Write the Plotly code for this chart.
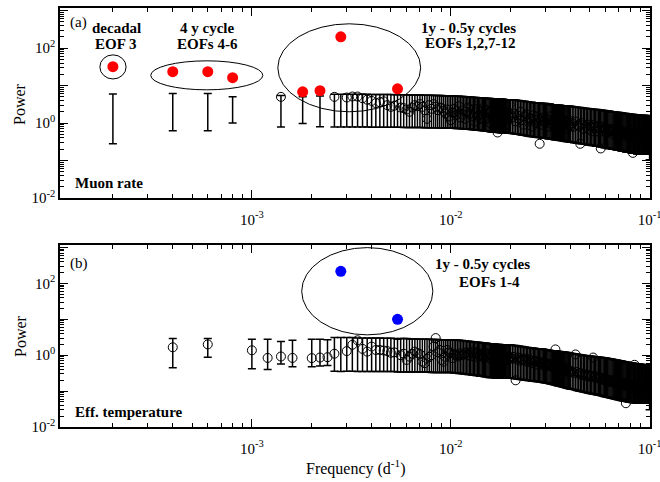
import math
import plotly.graph_objects as go

# ---------------- data (frequency in units of 1e-4 d^-1) ----------------
GRID_E4 = [
    26, 30, 32, 34, 36, 38, 40, 42, 44, 46,
    48, 50, 52, 56, 58, 60, 62, 64, 66, 68,
    70, 72, 74, 76, 78, 80, 82, 84, 86, 88,
    90, 92, 94, 96, 98, 100,
    102, 104, 106, 108, 110, 112, 114, 116, 118, 120,
    122, 124, 126, 128, 130, 132, 134, 136, 138, 140,
    142, 144, 146, 148, 150, 152, 154, 156, 158, 160,
    162, 164, 166, 168, 170, 172, 174, 176, 178, 180,
    182, 184, 186, 188, 190, 192, 194, 196, 198, 200,
    204, 208, 212, 216, 220, 224, 228, 232, 236, 240,
    244, 248, 252, 256, 260, 264, 268, 272, 276, 280,
    284, 288, 292, 296, 300, 304, 308, 312, 316, 320,
    324, 328, 332, 336, 340, 344, 348, 352, 356, 360,
    364, 368, 372, 376, 380, 384, 388, 392, 396, 400,
    408, 416, 424, 432, 440, 448, 456, 464, 472, 480,
    488, 496, 504, 512, 520, 528, 536, 544, 552, 560,
    568, 576, 584, 592, 600, 608, 616, 624, 632, 640,
    648, 656, 664, 672, 680, 688, 696, 704, 712, 720,
    728, 736, 744, 752, 760, 768, 776, 784, 792, 800,
    808, 816, 824, 832, 840, 848, 856, 864, 872, 880,
    888, 896, 904, 912, 920, 928, 936, 944, 952, 960,
    968, 976, 984, 992, 1000,
]

# panel (a) muon rate: power, lower / upper confidence bound
P_A = [
    5.0, 4.8, 5.1, 5.1, 4.6, 4.2, 3.9, 3.4, 3.6, 3.8,
    3.0, 2.7, 2.9, 2.6, 2.5, 2.3, 2.0, 2.6, 3.0, 2.8,
    3.2, 2.7, 2.2, 1.3, 3.0, 2.4, 3.2, 2.7, 2.2, 2.6,
    2.5, 2.1, 1.8, 2.3, 1.5, 1.2,
    1.9, 2.4, 1.6, 2.1, 2.8, 1.4, 1.7, 2.2, 1.3, 2.0,
    2.6, 1.8, 3.8, 1.5, 2.3, 1.1, 1.9, 2.4, 1.6, 1.3,
    2.0, 1.7, 2.5, 1.2, 1.8, 2.2, 1.4, 1.9, 1.0, 2.1,
    1.5, 1.6, 1.4, 2.0, 1.3, 0.56, 2.4, 1.1, 1.5, 1.8,
    1.2, 2.1, 1.4, 1.6, 0.9, 1.9, 1.3, 1.5, 3.1, 1.7,
    1.4, 1.8, 1.1, 1.6, 1.3, 2.0, 1.2, 0.9, 1.5, 1.7,
    1.1, 1.4, 1.3, 0.8, 1.6, 1.2, 1.0, 1.5, 1.3, 0.28,
    1.2, 0.9, 1.4, 1.1, 1.0, 1.3, 0.8, 1.2, 1.5, 1.0,
    0.9, 1.2, 1.1, 0.7, 1.3, 1.0, 0.9, 1.2, 0.8, 1.1,
    1.0, 0.8, 1.2, 0.9, 1.1, 0.7, 1.0, 1.2, 0.9, 0.8,
    1.0, 0.8, 1.1, 0.9, 0.85, 0.28, 1.0, 0.7, 0.9, 0.8,
    0.7, 0.9, 0.8, 0.6, 0.9, 0.75, 0.8, 0.6, 0.85, 0.7,
    0.21, 0.8, 0.6, 0.7, 0.75, 0.55, 0.7, 0.65, 0.6, 0.7,
    0.6, 0.5, 0.65, 0.55, 0.6, 0.5, 0.6, 0.45, 0.55, 0.5,
    0.6, 0.5, 0.55, 0.5, 0.55, 0.45, 0.5, 0.55, 0.5, 0.45,
    0.5, 0.45, 0.16, 0.5, 0.45, 0.4, 0.5, 0.45, 0.4, 0.5,
    0.45, 0.5, 0.4, 0.45, 0.5, 0.4, 0.45, 0.5, 0.4, 0.45,
    0.3, 0.25, 0.74, 0.45, 0.6,
]
LO_A = [
    0.78, 0.78, 0.78, 0.78, 0.78, 0.78, 0.77, 0.77, 0.77, 0.77,
    0.77, 0.77, 0.77, 0.77, 0.76, 0.76, 0.76, 0.76, 0.76, 0.76,
    0.76, 0.76, 0.75, 0.75, 0.75, 0.75, 0.75, 0.75, 0.75, 0.74,
    0.74, 0.74, 0.74, 0.74, 0.74, 0.74,
    0.73, 0.73, 0.72, 0.72, 0.71, 0.71, 0.70, 0.70, 0.69, 0.69,
    0.68, 0.68, 0.67, 0.67, 0.66, 0.66, 0.65, 0.65, 0.64, 0.64,
    0.63, 0.63, 0.62, 0.62, 0.61, 0.61, 0.60, 0.60, 0.59, 0.59,
    0.58, 0.58, 0.58, 0.57, 0.57, 0.57, 0.56, 0.56, 0.56, 0.55,
    0.55, 0.55, 0.55, 0.54, 0.54, 0.54, 0.54, 0.54, 0.54, 0.54,
    0.53, 0.52, 0.51, 0.50, 0.50, 0.49, 0.48, 0.47, 0.47, 0.46,
    0.45, 0.45, 0.44, 0.44, 0.43, 0.43, 0.42, 0.42, 0.41, 0.41,
    0.41, 0.40, 0.40, 0.40, 0.39, 0.39, 0.38, 0.38, 0.38, 0.37,
    0.37, 0.37, 0.36, 0.36, 0.36, 0.35, 0.35, 0.35, 0.34, 0.34,
    0.34, 0.33, 0.33, 0.33, 0.32, 0.32, 0.32, 0.32, 0.31, 0.31,
    0.31, 0.30, 0.30, 0.29, 0.29, 0.28, 0.28, 0.28, 0.27, 0.27,
    0.26, 0.26, 0.26, 0.25, 0.25, 0.25, 0.24, 0.24, 0.24, 0.24,
    0.23, 0.23, 0.23, 0.22, 0.22, 0.22, 0.21, 0.21, 0.21, 0.21,
    0.20, 0.20, 0.20, 0.20, 0.19, 0.19, 0.19, 0.19, 0.19, 0.18,
    0.18, 0.18, 0.18, 0.18, 0.17, 0.17, 0.17, 0.17, 0.17, 0.17,
    0.16, 0.16, 0.16, 0.16, 0.16, 0.16, 0.16, 0.15, 0.15, 0.15,
    0.15, 0.15, 0.15, 0.15, 0.15, 0.15, 0.15, 0.15, 0.15, 0.15,
    0.15, 0.15, 0.15, 0.15, 0.105,
]
HI_A = [
    5.9, 5.9, 5.9, 5.9, 5.9, 5.9, 5.8, 5.8, 5.8, 5.8,
    5.8, 5.8, 5.7, 5.7, 5.7, 5.7, 5.6, 5.6, 5.6, 5.6,
    5.6, 5.5, 5.5, 5.5, 5.5, 5.5, 5.4, 5.4, 5.4, 5.4,
    5.4, 5.3, 5.3, 5.3, 5.3, 5.3,
    5.3, 5.3, 5.2, 5.2, 5.2, 5.1, 5.1, 5.1, 5.0, 5.0,
    5.0, 4.9, 4.9, 4.9, 4.8, 4.8, 4.8, 4.7, 4.7, 4.7,
    4.7, 4.6, 4.6, 4.6, 4.6, 4.5, 4.5, 4.5, 4.5, 4.4,
    4.4, 4.4, 4.4, 4.4, 4.3, 4.3, 4.3, 4.3, 4.3, 4.3,
    4.3, 4.3, 4.2, 4.2, 4.2, 4.2, 4.2, 4.2, 4.2, 4.2,
    4.2, 4.1, 4.1, 4.0, 4.0, 3.9, 3.9, 3.8, 3.8, 3.7,
    3.7, 3.6, 3.6, 3.6, 3.5, 3.5, 3.5, 3.4, 3.4, 3.4,
    3.4, 3.3, 3.3, 3.3, 3.3, 3.2, 3.2, 3.2, 3.2, 3.1,
    3.1, 3.1, 3.1, 3.1, 3.0, 3.0, 3.0, 3.0, 3.0, 2.9,
    2.9, 2.9, 2.9, 2.9, 2.8, 2.8, 2.8, 2.8, 2.8, 2.8,
    2.75, 2.7, 2.7, 2.65, 2.6, 2.6, 2.55, 2.5, 2.5, 2.45,
    2.45, 2.4, 2.4, 2.35, 2.35, 2.3, 2.3, 2.3, 2.25, 2.25,
    2.2, 2.2, 2.15, 2.15, 2.1, 2.1, 2.1, 2.05, 2.05, 2.0,
    2.0, 2.0, 1.95, 1.95, 1.95, 1.9, 1.9, 1.9, 1.85, 1.85,
    1.85, 1.8, 1.8, 1.8, 1.8, 1.75, 1.75, 1.75, 1.75, 1.7,
    1.7, 1.7, 1.7, 1.7, 1.65, 1.65, 1.65, 1.65, 1.65, 1.6,
    1.6, 1.6, 1.6, 1.6, 1.6, 1.6, 1.58, 1.58, 1.58, 1.58,
    1.57, 1.57, 1.57, 1.57, 1.57,
]

# panel (b) effective temperature
P_B = [
    1.1, 1.3, 1.95, 2.6, 1.5, 1.26, 1.74, 1.4, 1.4, 1.35,
    1.3, 1.17, 1.2, 1.0, 1.1, 0.74, 0.91, 1.1, 1.26, 1.15,
    1.07, 0.66, 0.6, 0.8, 0.9, 1.0, 1.74, 3.0, 1.2, 1.4,
    0.74, 0.66, 0.9, 1.4, 1.2, 1.14,
    0.83, 1.1, 1.0, 0.91, 1.0, 1.14, 1.0, 1.05, 1.14, 1.2,
    1.0, 1.17, 0.95, 1.26, 1.1, 0.9, 1.2, 1.14, 1.0, 0.95,
    1.1, 1.0, 0.85, 1.2, 0.95, 1.05, 0.9, 1.1, 0.8, 1.0,
    0.95, 0.8, 1.05, 0.85, 0.9, 1.0, 0.75, 0.9, 1.0, 0.85,
    0.9, 0.8, 0.95, 0.7, 0.85, 0.9, 0.75, 0.8, 0.9, 0.85,
    0.8, 0.9, 0.2, 0.75, 0.85, 0.7, 0.8, 0.75, 0.7, 0.8,
    0.65, 0.75, 0.7, 0.6, 0.7, 0.65, 0.7, 0.55, 0.65, 0.6,
    0.6, 0.55, 0.65, 0.5, 0.6, 0.55, 0.5, 0.58, 0.5, 0.55,
    0.5, 0.45, 0.55, 1.45, 0.5, 0.45, 0.48, 0.42, 0.45, 0.4,
    0.42, 0.38, 0.45, 0.4, 0.36, 0.4, 0.35, 0.38, 0.34, 0.36,
    0.35, 0.32, 1.05, 0.34, 0.3, 0.32, 0.28, 0.3, 0.27, 0.29,
    0.26, 0.28, 0.25, 0.27, 0.86, 0.24, 0.26, 0.23, 0.25, 0.22,
    0.24, 0.21, 0.23, 0.2, 0.22, 0.19, 0.21, 0.18, 0.2, 0.19,
    0.18, 0.2, 0.17, 0.19, 0.16, 0.18, 0.17, 0.15, 0.17, 0.16,
    0.15, 0.17, 0.14, 0.16, 0.046, 0.15, 0.14, 0.13, 0.15, 0.14,
    0.13, 0.14, 0.12, 0.13, 0.54, 0.12, 0.13, 0.11, 0.12, 0.11,
    0.12, 0.11, 0.1, 0.12, 0.11, 0.1, 0.11, 0.09, 0.1, 0.11,
    0.1, 0.09, 0.12, 0.08, 0.2,
]
LO_B = [
    0.36, 0.36, 0.36, 0.35, 0.35, 0.35, 0.35, 0.35, 0.35, 0.35,
    0.35, 0.35, 0.35, 0.34, 0.34, 0.34, 0.34, 0.34, 0.34, 0.34,
    0.34, 0.34, 0.34, 0.34, 0.34, 0.33, 0.33, 0.33, 0.33, 0.33,
    0.33, 0.33, 0.33, 0.33, 0.33, 0.33,
    0.33, 0.32, 0.32, 0.32, 0.31, 0.31, 0.31, 0.30, 0.30, 0.30,
    0.29, 0.29, 0.29, 0.28, 0.28, 0.28, 0.27, 0.27, 0.27, 0.26,
    0.26, 0.26, 0.26, 0.25, 0.25, 0.25, 0.25, 0.24, 0.24, 0.24,
    0.24, 0.24, 0.24, 0.23, 0.23, 0.23, 0.23, 0.23, 0.23, 0.23,
    0.23, 0.23, 0.23, 0.23, 0.23, 0.23, 0.23, 0.23, 0.23, 0.23,
    0.228, 0.225, 0.222, 0.218, 0.215, 0.212, 0.209, 0.206, 0.203, 0.2,
    0.198, 0.196, 0.194, 0.192, 0.19, 0.188, 0.186, 0.184, 0.182, 0.181,
    0.18, 0.178, 0.175, 0.172, 0.17, 0.167, 0.165, 0.162, 0.16, 0.157,
    0.155, 0.152, 0.15, 0.147, 0.145, 0.142, 0.14, 0.138, 0.136, 0.134,
    0.132, 0.13, 0.128, 0.126, 0.124, 0.122, 0.12, 0.118, 0.116, 0.114,
    0.112, 0.11, 0.107, 0.104, 0.101, 0.099, 0.097, 0.095, 0.093, 0.091,
    0.089, 0.087, 0.086, 0.084, 0.083, 0.082, 0.08, 0.079, 0.078, 0.077,
    0.076, 0.074, 0.073, 0.071, 0.07, 0.069, 0.068, 0.066, 0.065, 0.064,
    0.063, 0.062, 0.061, 0.06, 0.059, 0.058, 0.057, 0.057, 0.056, 0.055,
    0.055, 0.054, 0.053, 0.053, 0.052, 0.051, 0.051, 0.05, 0.05, 0.049,
    0.049, 0.048, 0.048, 0.048, 0.047, 0.047, 0.047, 0.046, 0.046, 0.046,
    0.046, 0.046, 0.046, 0.046, 0.046, 0.046, 0.046, 0.046, 0.046, 0.046,
    0.046, 0.046, 0.046, 0.046, 0.03,
]
HI_B = [
    3.1, 3.1, 3.1, 3.0, 3.0, 3.0, 3.0, 3.0, 3.0, 2.95,
    2.95, 2.95, 2.9, 2.9, 2.9, 2.9, 2.85, 2.85, 2.85, 2.85,
    2.8, 2.8, 2.8, 2.8, 2.8, 2.75, 2.75, 2.75, 2.75, 2.7,
    2.7, 2.7, 2.7, 2.7, 2.7, 2.7,
    2.7, 2.65, 2.65, 2.6, 2.6, 2.55, 2.55, 2.5, 2.5, 2.45,
    2.45, 2.4, 2.4, 2.35, 2.35, 2.3, 2.3, 2.3, 2.25, 2.25,
    2.2, 2.2, 2.2, 2.15, 2.15, 2.15, 2.1, 2.1, 2.1, 2.05,
    2.05, 2.05, 2.05, 2.0, 2.0, 2.0, 2.0, 2.0, 1.95, 1.95,
    1.95, 1.95, 1.95, 1.95, 1.95, 1.95, 1.95, 1.95, 1.95, 1.95,
    1.9, 1.85, 1.85, 1.8, 1.8, 1.75, 1.75, 1.7, 1.7, 1.65,
    1.65, 1.6, 1.6, 1.6, 1.55, 1.55, 1.5, 1.5, 1.5, 1.5,
    1.5, 1.48, 1.46, 1.44, 1.42, 1.4, 1.38, 1.37, 1.36, 1.34,
    1.33, 1.32, 1.31, 1.3, 1.29, 1.28, 1.27, 1.26, 1.25, 1.24,
    1.23, 1.22, 1.21, 1.2, 1.19, 1.18, 1.17, 1.16, 1.15, 1.14,
    1.12, 1.1, 1.08, 1.06, 1.04, 1.03, 1.01, 1.0, 0.98, 0.97,
    0.96, 0.95, 0.94, 0.93, 0.92, 0.91, 0.9, 0.9, 0.89, 0.88,
    0.87, 0.86, 0.85, 0.84, 0.83, 0.82, 0.81, 0.8, 0.79, 0.78,
    0.77, 0.76, 0.75, 0.74, 0.73, 0.72, 0.71, 0.7, 0.69, 0.69,
    0.68, 0.67, 0.66, 0.66, 0.65, 0.64, 0.63, 0.63, 0.62, 0.62,
    0.61, 0.6, 0.6, 0.59, 0.59, 0.58, 0.58, 0.57, 0.57, 0.56,
    0.56, 0.56, 0.55, 0.55, 0.55, 0.54, 0.54, 0.54, 0.54, 0.54,
    0.54, 0.54, 0.54, 0.54, 0.54,
]

# low-frequency, non-highlighted points
A_LOW_E4 = [14]
A_LOW_P = [5.0]
A_LOW_LO = [0.78]
A_LOW_HI = [5.4]
B_LOW_E4 = [4, 6, 10, 12, 14, 16, 20, 22, 24]
B_LOW_P = [1.66, 2.0, 1.37, 0.84, 0.92, 0.84, 0.83, 0.86, 0.88]
B_LOW_LO = [0.45, 0.88, 0.42, 0.40, 0.57, 0.48, 0.48, 0.50, 0.52]
B_LOW_HI = [2.9, 2.9, 2.8, 2.8, 2.4, 2.6, 2.8, 2.8, 2.7]

# EOF-related (highlighted) points
A_EOF_E4 = [2, 4, 6, 8, 18, 22, 28, 54]
A_EOF_P = [32, 23.5, 23.5, 16.2, 6.8, 7.3, 200, 8.2]
A_EOF_LO = [0.28, 0.62, 0.62, 1.0, 0.98, 0.8, 0.78, 0.77]
A_EOF_HI = [6.0, 6.1, 6.1, 5.0, 5.0, 5.3, 5.9, 5.7]
B_EOF_E4 = [28, 54]
B_EOF_P = [217, 10]
B_EOF_LO = [0.35, 0.34]
B_EOF_HI = [3.1, 2.8]

# ---------------- layout constants ----------------
W, H = 660, 482
ML, MR, MT, MB = 60, 10, 8, 55
FONT = "Liberation Serif"
XR = [-3.965, -0.998]
YR = [-2.0, 3.07]
PA_TOP, PA_BOT, PB_TOP, PB_BOT = 8, 198, 245, 427


def PX(x):
    return (x - ML) / (W - ML - MR)


def PY(y):
    return (H - MB - y) / (H - MT - MB)


def fr(e4list):
    return [v * 1e-4 for v in e4list]


n = min(len(GRID_E4), len(P_A), len(LO_A), len(HI_A), len(P_B), len(LO_B), len(HI_B))
grid = fr(GRID_E4[:n])

fig = go.Figure()


def add_panel(xa, ya, f_ci, lo, hi, f_pts, p_pts, f_eof, p_eof, eof_color):
    yc = [math.sqrt(a * b) for a, b in zip(lo, hi)]
    fig.add_trace(go.Scatter(
        x=f_ci, y=yc, mode="markers", xaxis=xa, yaxis=ya,
        marker=dict(size=1, color="rgba(0,0,0,0)"),
        error_y=dict(type="data", symmetric=False,
                     array=[h - c for h, c in zip(hi, yc)],
                     arrayminus=[c - l for c, l in zip(yc, lo)],
                     color="black", thickness=1.5, width=4),
        showlegend=False, hoverinfo="skip"))
    fig.add_trace(go.Scatter(
        x=f_pts, y=p_pts, mode="markers", xaxis=xa, yaxis=ya,
        marker=dict(symbol="circle-open", size=9, color="black", line=dict(width=1)),
        showlegend=False))
    fig.add_trace(go.Scatter(
        x=f_eof, y=p_eof, mode="markers", xaxis=xa, yaxis=ya,
        marker=dict(symbol="circle", size=11, color=eof_color, line=dict(width=0)),
        showlegend=False))


add_panel("x", "y",
          fr(A_EOF_E4) + fr(A_LOW_E4) + grid,
          A_EOF_LO + A_LOW_LO + LO_A[:n], A_EOF_HI + A_LOW_HI + HI_A[:n],
          fr(A_LOW_E4) + grid, A_LOW_P + P_A[:n],
          fr(A_EOF_E4), A_EOF_P, "#ff0000")
add_panel("x2", "y2",
          fr(B_EOF_E4) + fr(B_LOW_E4) + grid,
          B_EOF_LO + B_LOW_LO + LO_B[:n], B_EOF_HI + B_LOW_HI + HI_B[:n],
          fr(B_LOW_E4) + grid, B_LOW_P + P_B[:n],
          fr(B_EOF_E4), B_EOF_P, "#0000ff")

xminor = [m * 10 ** e for e in (-4, -3, -2) for m in range(2, 10)]
yminor = [m * 10 ** e for e in (-2, -1, 0, 1, 2, 3) for m in range(2, 10)]
tickfont = dict(family=FONT, size=15, color="black")


def xaxis(anchor):
    return dict(type="log", range=XR, anchor=anchor, domain=[0, 1], automargin=False,
                showline=True, linecolor="black", linewidth=1.5, mirror="allticks",
                ticks="inside", ticklen=8, tickwidth=1, tickcolor="black",
                tickvals=[1e-3, 1e-2, 1e-1],
                ticktext=["10<sup>-3</sup>", "10<sup>-2</sup>", "10<sup>-1</sup>"],
                tickfont=tickfont, showgrid=False, zeroline=False,
                ticklabeloverflow="allow", ticklabelstandoff=7,
                minor=dict(ticks="inside", ticklen=4, tickwidth=1, tickcolor="black",
                           tickmode="array", tickvals=xminor, showgrid=False))


def yaxis(anchor, dom):
    return dict(type="log", range=YR, anchor=anchor, domain=dom, automargin=False,
                showline=True, linecolor="black", linewidth=1.5, mirror="allticks",
                ticks="inside", ticklen=8, tickwidth=1, tickcolor="black",
                tickvals=[1e-2, 1e-1, 1, 10, 100, 1000],
                ticktext=["10<sup>-2</sup>", "", "10<sup>0</sup>", "", "10<sup>2</sup>", ""],
                tickfont=tickfont, showgrid=False, zeroline=False,
                ticklabeloverflow="allow",
                minor=dict(ticks="inside", ticklen=4, tickwidth=1, tickcolor="black",
                           tickmode="array", tickvals=yminor, showgrid=False))


fig.update_layout(
    width=W, height=H,
    margin=dict(l=ML, r=MR, t=MT, b=MB, pad=0, autoexpand=False),
    paper_bgcolor="white", plot_bgcolor="white",
    font=dict(family=FONT, size=15, color="black"),
    xaxis=xaxis("y"), yaxis=yaxis("x", [PY(PA_BOT), PY(PA_TOP)]),
    xaxis2=xaxis("y2"), yaxis2=yaxis("x2", [PY(PB_BOT), PY(PB_TOP)]),
    showlegend=False,
)


# ellipses, defined in data space (frequency, power)
def dx(f):
    return (math.log10(f) - XR[0]) / (XR[1] - XR[0])


def dy(p):
    return (math.log10(p) - YR[0]) / (YR[1] - YR[0])


ELLIPSES = [
    ("x", "y", 1.72e-4, 2.33e-4, 15, 66),
    ("x", "y", 3.10e-4, 1.135e-3, 7.7, 45.7),
    ("x", "y", 1.35e-3, 7.06e-3, 2.0, 445),
    ("x2", "y2", 1.78e-3, 8.13e-3, 3.69, 993),
]
for xa, ya, f0, f1, p0, p1 in ELLIPSES:
    fig.add_shape(type="circle", xref=xa + " domain", yref=ya + " domain",
                  x0=dx(f0), x1=dx(f1), y0=dy(p0), y1=dy(p1),
                  line=dict(color="black", width=1))

# text labels: (text, x_px, y_px, xanchor, bold)
LABELS = [
    ("(a)", 68, 23, "left", False),
    ("decadal", 116, 28, "center", True),
    ("EOF 3", 116, 44, "center", True),
    ("4 y cycle", 207, 28, "center", True),
    ("EOFs 4-6", 207, 44, "center", True),
    ("1y - 0.5y cycles", 469, 28, "center", True),
    ("EOFs 1,2,7-12", 470, 43, "center", True),
    ("Muon rate", 73, 183, "left", True),
    ("(b)", 68, 263, "left", False),
    ("1y - 0.5y cycles", 482, 264, "center", True),
    ("EOFs 1-4", 490, 282, "center", True),
    ("Eff. temperature", 73, 412, "left", True),
]
for text, x, y, xa, bold in LABELS:
    fig.add_annotation(text=("<b>%s</b>" % text) if bold else text,
                       xref="paper", yref="paper", x=PX(x), y=PY(y),
                       xanchor=xa, yanchor="middle", showarrow=False,
                       font=dict(family=FONT, size=15, color="black"))

for yc in (104, 336):
    fig.add_annotation(text="Power", xref="paper", yref="paper", x=PX(20), y=PY(yc),
                       xanchor="center", yanchor="middle", textangle=-90, showarrow=False,
                       font=dict(family=FONT, size=16, color="black"))
fig.add_annotation(text="Frequency (d<sup>-1</sup>)", xref="paper", yref="paper",
                   x=PX(356), y=PY(467), xanchor="center", yanchor="middle", showarrow=False,
                   font=dict(family=FONT, size=16, color="black"))

fig.write_html("out.html")
